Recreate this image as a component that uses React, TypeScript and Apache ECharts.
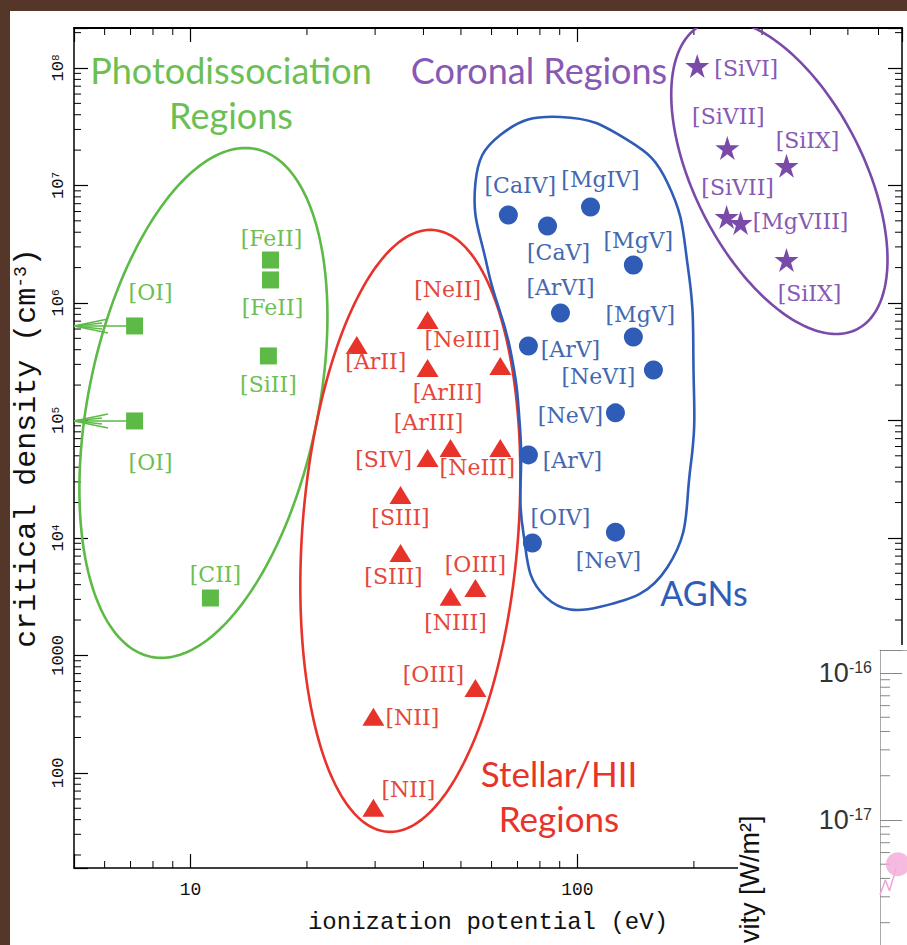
import React, { useEffect, useRef } from 'react';
import * as echarts from 'echarts';

// ---------------- axis ranges ----------------
const X_MIN = 5;
const X_MAX = 690;
const Y_MIN = 15.5;
const Y_MAX = 2.19e8;
const INSET_Y_MIN = 1.413e-18;
const INSET_Y_MAX = 1.434e-16;

// ---------------- data ----------------
// Photodissociation regions (green squares)
const pdrLines = ['[OI]', '[OI]', '[FeII]', '[FeII]', '[SiII]', '[CII]'];
const pdrIP = [7.17, 7.17, 16.1, 16.1, 15.9, 11.26];
const pdrNcrit = [6.37e5, 9.9e4, 2.32e6, 1.57e6, 3.54e5, 3.08e3];

// Stellar / HII regions (red triangles)
const hiiLines = ['[NeII]', '[ArII]', '[ArIII]', '[NeIII]', '[SIV]', '[ArIII]', '[NeIII]', '[SIII]', '[SIII]', '[OIII]', '[NIII]', '[OIII]', '[NII]', '[NII]'];
const hiiIP = [41.0, 26.9, 41.0, 63.2, 41.0, 47.0, 63.2, 34.9, 34.9, 54.5, 47.0, 54.5, 29.7, 29.7];
const hiiNcrit = [7.17e5, 4.39e5, 2.8e5, 2.91e5, 4.8e4, 5.83e4, 5.83e4, 2.32e4, 7.45e3, 3.75e3, 3.15e3, 528, 300, 50.4];

// AGNs (blue circles)
const agnLines = ['[CaIV]', '[CaV]', '[MgIV]', '[MgV]', '[ArVI]', '[MgV]', '[ArV]', '[NeVI]', '[NeV]', '[ArV]', '[OIV]', '[NeV]'];
const agnIP = [66.3, 83.7, 108.1, 139.5, 90.4, 139.5, 74.7, 157.2, 125.4, 74.7, 76.5, 125.4];
const agnNcrit = [5.61e6, 4.52e6, 6.56e6, 2.1e6, 8.22e5, 5.14e5, 4.3e5, 2.69e5, 1.16e5, 5.09e4, 9.06e3, 1.12e4];

// Coronal regions (purple stars)
const corLines = ['[SiVI]', '[SiVII]', '[SiIX]', '[SiVII]', '[MgVIII]', '[SiIX]'];
const corIP = [204, 244, 347, 243, 264, 347];
const corNcrit = [1.04e8, 2.08e7, 1.47e7, 5.4e6, 4.8e6, 2.32e6];

// AGN outline (closed smooth curve), in data units
const agnOutlineIP = [90.4, 134.6, 171, 193, 199.5, 196, 171, 114.6, 82.7, 72.5, 71.2, 67.1, 58.5, 54.5, 63.2];
const agnOutlineN = [3.83e7, 2.44e7, 1.05e7, 2.02e6, 2.85e5, 4.02e4, 5.66e3, 2.59e3, 3.15e3, 1.1e4, 7.83e4, 3.98e5, 2.02e6, 1.05e7, 2.69e7];

// Inset (cropped second panel)
const insetX = [0.0, 0.2, 0.35, 0.6];
const insetY = [3.1e-18, 3.9e-18, 3.3e-18, 4.7e-18];
const insetBlobX = [0.66];
const insetBlobY = [5.0e-18];

// ---------------- layout / style ----------------
const GREEN = '#5dba47';
const GREEN_T = '#6cbf52';
const RED = '#e8332b';
const RED_T = '#e5473a';
const BLUE = '#2e5cb6';
const BLUE_T = '#4468b0';
const PURPLE = '#7a4aa9';
const PURPLE_T = '#8759b5';
const BROWN = '#55372a';

const LABEL_FONT = '"DejaVu Serif", serif';
const MONO = '"Liberation Mono", monospace';
const SANS = 'Lato, "Open Sans", sans-serif';
const ARIAL = '"Liberation Sans", Arial, sans-serif';

const pdrLabelOffset = [[16, -33], [16, 42], [1, -22], [2, 28], [0, 29], [5, -24]];
const hiiLabelOffset = [[20, -30], [19, 17], [20, 25], [-38, -26], [-44, 2], [-22, -25], [-23, 20], [0, 23], [-7, 24], [0, -23], [5, 26], [-42, -13], [39, 1], [35, -18]];
const agnLabelOffset = [[12, -29], [11, 27], [10, -27], [5, -25], [0, -25], [7, -22], [42, 3], [-55, 7], [-45, 3], [44, 6], [28, -25], [-7, 28]];
const corLabelOffset = [[49, 3], [1, -32], [21, -25], [11, -29], [60, -1], [23, 33]];

// sheared ellipses in log space: centre (data), half-width rx (x decades), half-height ry (y decades), shear (x decades per y decade)
const pdrEllipse = { cx: 10.8, cy: 1.41e5, rx: 0.3016, ry: 2.17, shear: 0.05 };
const hiiEllipse = { cx: 37.0, cy: 1.148e4, rx: 0.2796, ry: 2.562, shear: 0.0202 };
const corEllipse = { cx: 332.6, cy: 1.18e7, rx: 0.2377, ry: 1.336, shear: -0.11 };

const STAR = 'path://M50,0L61.8,35.1L100,35.1L69.1,57.3L80.9,92.7L50,70.5L19.1,92.7L30.9,57.3L0,35.1L38.2,35.1Z';

function isPow10(v: number) {
  const l = Math.log10(v);
  return Math.abs(l - Math.round(l)) < 1e-6;
}

function scatterSeries(name: string, ips: number[], ns: number[], lines: string[], offsets: number[][], symbol: string, size: any, color: string, labelColor: string) {
  return {
    type: 'scatter',
    name,
    xAxisIndex: 0,
    yAxisIndex: 0,
    symbol,
    symbolSize: size,
    z: 5,
    emphasis: { disabled: true },
    itemStyle: { color, opacity: 1 },
    data: ips.map((x, i) => ({
      value: [x, ns[i]],
      label: {
        show: true,
        formatter: lines[i],
        position: 'inside',
        offset: offsets[i],
        color: labelColor,
        fontFamily: LABEL_FONT,
        fontSize: 22,
        textBorderWidth: 0,
      },
    })),
  };
}

function ellipseSeries(spec: any, color: string) {
  return {
    type: 'custom',
    xAxisIndex: 0,
    yAxisIndex: 0,
    silent: true,
    clip: true,
    z: 3,
    data: [[spec.cx, spec.cy]],
    renderItem: (params: any, api: any) => {
      const lx0 = Math.log10(api.value(0));
      const ly0 = Math.log10(api.value(1));
      const pts: number[][] = [];
      const n = 200;
      for (let i = 0; i < n; i++) {
        const t = (i / n) * 2 * Math.PI;
        const ly = ly0 + spec.ry * Math.sin(t);
        const lx = lx0 + spec.rx * Math.cos(t) + spec.shear * spec.ry * Math.sin(t);
        pts.push(api.coord([Math.pow(10, lx), Math.pow(10, ly)]));
      }
      return { type: 'polygon', shape: { points: pts }, style: { fill: 'none', stroke: color, lineWidth: 2.6 } };
    },
  };
}

function centeredText(x: number, y: number, text: string, fill: string, size: number) {
  return {
    type: 'text', z: 6, x, y, silent: true,
    style: { text, fill, font: size + 'px ' + SANS, textAlign: 'center', textVerticalAlign: 'middle', align: 'center', verticalAlign: 'middle' },
  };
}

export default function App() {
  const ref = useRef<HTMLDivElement>(null);

  useEffect(() => {
    if (!ref.current) return;
    const chart = echarts.init(ref.current, null, { renderer: 'svg' });

    const mainMinorTicks = (params: any, api: any) => {
      const cs = params.coordSys;
      const L = cs.x, R = cs.x + cs.width, T = cs.y, B = cs.y + cs.height;
      const st = { stroke: '#000', lineWidth: 1 };
      const ch: any[] = [];
      for (let k = 0; k < 4; k++) {
        for (let m = 2; m <= 9; m++) {
          const v = m * Math.pow(10, k);
          if (v <= X_MIN || v >= X_MAX) continue;
          const px = api.coord([v, Y_MAX])[0];
          ch.push({ type: 'line', shape: { x1: px, y1: B, x2: px, y2: B - 7 }, style: st });
          ch.push({ type: 'line', shape: { x1: px, y1: T, x2: px, y2: T + 7 }, style: st });
        }
      }
      for (let k = 1; k < 9; k++) {
        for (let m = 2; m <= 9; m++) {
          const v = m * Math.pow(10, k);
          if (v <= Y_MIN || v >= Y_MAX) continue;
          const py = api.coord([X_MIN, v])[1];
          ch.push({ type: 'line', shape: { x1: L, y1: py, x2: L + 7, y2: py }, style: st });
          ch.push({ type: 'line', shape: { x1: R, y1: py, x2: R - 7, y2: py }, style: st });
        }
      }
      return { type: 'group', children: ch };
    };

    const insetMinorTicks = (params: any, api: any) => {
      const cs = params.coordSys;
      const L = cs.x;
      const st = { stroke: '#888', lineWidth: 1 };
      const ch: any[] = [];
      for (let k = -19; k < -15; k++) {
        for (let m = 2; m <= 9; m++) {
          const v = m * Math.pow(10, k);
          if (v <= INSET_Y_MIN || v >= INSET_Y_MAX) continue;
          const py = api.coord([0, v])[1];
          ch.push({ type: 'line', shape: { x1: L, y1: py, x2: L + 10, y2: py }, style: st });
        }
      }
      return { type: 'group', children: ch };
    };

    const arrowItem = (params: any, api: any) => {
      const p = api.coord([api.value(0), api.value(1)]);
      const x0 = params.coordSys.x;
      const st = { stroke: GREEN, lineWidth: 1.4 };
      return {
        type: 'group',
        children: [
          { type: 'line', shape: { x1: x0, y1: p[1], x2: p[0] - 8, y2: p[1] }, style: st },
          { type: 'line', shape: { x1: x0, y1: p[1], x2: x0 + 34, y2: p[1] - 7 }, style: st },
          { type: 'line', shape: { x1: x0, y1: p[1], x2: x0 + 34, y2: p[1] + 7 }, style: st },
          { type: 'line', shape: { x1: x0, y1: p[1], x2: x0 + 28, y2: p[1] - 3 }, style: st },
          { type: 'line', shape: { x1: x0, y1: p[1], x2: x0 + 28, y2: p[1] + 3 }, style: st },
        ],
      };
    };

    const option: any = {
      animation: false,
      backgroundColor: '#ffffff',
      grid: [
        { left: 74, top: 28, right: 5, bottom: 77 },
        { left: 880, top: 650, right: 0, bottom: 0 },
      ],
      xAxis: [
        {
          type: 'log', gridIndex: 0, min: X_MIN, max: X_MAX, position: 'bottom',
          axisLine: { lineStyle: { color: '#000', width: 1.5 } },
          axisTick: { inside: true, length: 14, lineStyle: { color: '#000', width: 1.2 } },
          axisLabel: {
            margin: 13, color: '#111', fontFamily: MONO, fontSize: 18,
            formatter: (v: number) => (isPow10(v) ? String(Math.round(v)) : ''),
          },
          splitLine: { show: false },
          name: 'ionization potential (eV)', nameLocation: 'middle', nameGap: 42,
          nameTextStyle: { fontFamily: MONO, fontSize: 24, color: '#111' },
        },
        {
          type: 'log', gridIndex: 0, min: X_MIN, max: X_MAX, position: 'top',
          axisLine: { lineStyle: { color: '#000', width: 2.2 } },
          axisTick: { inside: true, length: 14, lineStyle: { color: '#000', width: 1.2 } },
          axisLabel: { show: false }, splitLine: { show: false },
        },
        {
          type: 'value', gridIndex: 1, min: 0, max: 1, position: 'top', z: 20,
          axisLine: { lineStyle: { color: '#aaa', width: 1 } },
          axisTick: { show: false }, axisLabel: { show: false }, splitLine: { show: false },
        },
      ],
      yAxis: [
        {
          type: 'log', gridIndex: 0, min: Y_MIN, max: Y_MAX, position: 'left',
          axisLine: { lineStyle: { color: '#000', width: 1.5 } },
          axisTick: { inside: true, length: 14, lineStyle: { color: '#000', width: 1.2 } },
          axisLabel: {
            rotate: 90, margin: 7, color: '#111', fontFamily: MONO, fontSize: 17,
            formatter: (v: number) => {
              if (!isPow10(v)) return '';
              const e = Math.round(Math.log10(v));
              if (e === 2) return '100';
              if (e === 3) return '1000';
              return '10{sup|' + e + '}';
            },
            rich: { sup: { fontFamily: MONO, fontSize: 11, verticalAlign: 'top', color: '#111' } },
          },
          splitLine: { show: false },
          name: 'critical density (cm{sup|-3})', nameLocation: 'middle', nameRotate: 90, nameGap: 23,
          nameTextStyle: {
            fontFamily: MONO, fontSize: 30, color: '#111',
            rich: { sup: { fontFamily: MONO, fontSize: 18, verticalAlign: 'top', color: '#111' } },
          },
        },
        {
          type: 'log', gridIndex: 0, min: Y_MIN, max: Y_MAX, position: 'right',
          axisLine: { lineStyle: { color: '#000', width: 1.5 } },
          axisTick: { inside: true, length: 14, lineStyle: { color: '#000', width: 1.2 } },
          axisLabel: { show: false }, splitLine: { show: false },
        },
        {
          type: 'log', gridIndex: 1, min: INSET_Y_MIN, max: INSET_Y_MAX, position: 'left', z: 20,
          axisLine: { lineStyle: { color: '#aaa', width: 1 } },
          axisTick: { inside: true, length: 22, lineStyle: { color: '#888', width: 1 } },
          axisLabel: {
            margin: 8, color: '#333', fontFamily: ARIAL, fontSize: 27,
            formatter: (v: number) => (isPow10(v) ? '10{sup|' + Math.round(Math.log10(v)) + '}' : ''),
            rich: { sup: { fontFamily: ARIAL, fontSize: 16, verticalAlign: 'top', color: '#333' } },
          },
          splitLine: { show: false },
        },
      ],
      graphic: [
        // cover of the cropped second panel
        { type: 'rect', z: 8, silent: true, shape: { x: 738, y: 645, width: 169, height: 300 }, style: { fill: '#ffffff' } },
        {
          type: 'text', z: 25, x: 750, y: 943, rotation: Math.PI / 2, silent: true,
          style: { text: 'vity [W/m²]', fill: '#111', font: '27px ' + ARIAL, textAlign: 'left', textVerticalAlign: 'middle', align: 'left', verticalAlign: 'middle' },
        },
        // region titles
        centeredText(231, 70, 'Photodissociation', GREEN_T, 36),
        centeredText(231, 115, 'Regions', GREEN_T, 36),
        centeredText(539, 70, 'Coronal Regions', PURPLE_T, 36),
        centeredText(704, 592, 'AGNs', BLUE, 34),
        centeredText(559, 773, 'Stellar/HII', RED, 35),
        centeredText(559, 818, 'Regions', RED, 35),
        // brown photo frame
        { type: 'rect', z: 30, silent: true, shape: { x: 0, y: 0, width: 907, height: 11 }, style: { fill: BROWN } },
        { type: 'rect', z: 30, silent: true, shape: { x: 0, y: 0, width: 10, height: 945 }, style: { fill: BROWN } },
      ],
      series: [
        { type: 'custom', xAxisIndex: 0, yAxisIndex: 0, silent: true, clip: false, z: 1, data: [[X_MIN, Y_MIN]], renderItem: mainMinorTicks },
        ellipseSeries(pdrEllipse, GREEN),
        ellipseSeries(hiiEllipse, RED),
        ellipseSeries(corEllipse, PURPLE),
        {
          type: 'custom', xAxisIndex: 0, yAxisIndex: 0, silent: true, clip: true, z: 3,
          data: [[agnOutlineIP[0], agnOutlineN[0]]],
          renderItem: (params: any, api: any) => {
            const pts = agnOutlineIP.map((x, i) => api.coord([x, agnOutlineN[i]]));
            return { type: 'polygon', shape: { points: pts, smooth: 0.45 }, style: { fill: 'none', stroke: BLUE, lineWidth: 2.6 } };
          },
        },
        {
          type: 'custom', xAxisIndex: 0, yAxisIndex: 0, silent: true, clip: false, z: 4,
          data: [0, 1].map((i) => [pdrIP[i], pdrNcrit[i]]),
          renderItem: arrowItem,
        },
        scatterSeries('Photodissociation', pdrIP, pdrNcrit, pdrLines, pdrLabelOffset, 'rect', 17, GREEN, GREEN_T),
        scatterSeries('Stellar/HII', hiiIP, hiiNcrit, hiiLines, hiiLabelOffset, 'triangle', [22, 18], RED, RED_T),
        scatterSeries('AGN', agnIP, agnNcrit, agnLines, agnLabelOffset, 'circle', 19, BLUE, BLUE_T),
        scatterSeries('Coronal', corIP, corNcrit, corLines, corLabelOffset, STAR, 24, PURPLE, PURPLE_T),
        // inset panel
        { type: 'custom', xAxisIndex: 2, yAxisIndex: 2, silent: true, clip: false, z: 21, data: [[0, 1e-17]], renderItem: insetMinorTicks },
        {
          type: 'line', xAxisIndex: 2, yAxisIndex: 2, z: 21, symbol: 'none', silent: true,
          lineStyle: { color: '#f0a3d6', width: 1.5 },
          data: insetX.map((x, i) => [x, insetY[i]]),
        },
        {
          type: 'scatter', xAxisIndex: 2, yAxisIndex: 2, z: 22, symbolSize: 24, silent: true,
          itemStyle: { color: '#f4a9da' },
          data: insetBlobX.map((x, i) => [x, insetBlobY[i]]),
        },
      ],
    };

    chart.setOption(option);
    return () => chart.dispose();
  }, []);

  return <div ref={ref} style={{ position: 'fixed', left: 0, top: 0, width: 907, height: 945 }} />;
}
